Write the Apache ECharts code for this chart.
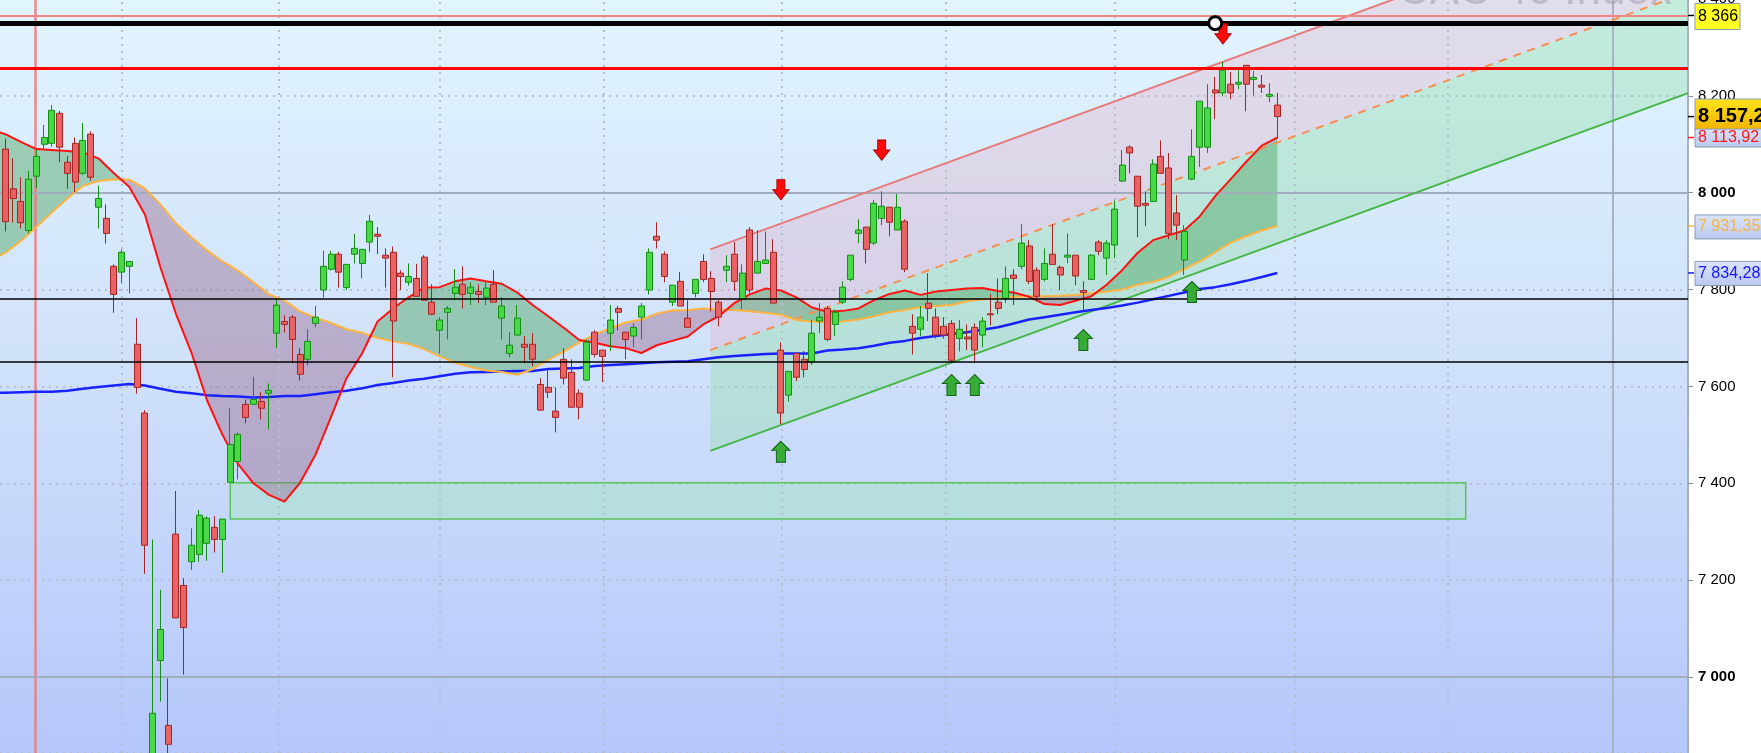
<!DOCTYPE html>
<html>
<head>
<meta charset="utf-8">
<title>CAC 40 Index</title>
<script src="https://cdn.jsdelivr.net/npm/echarts@6/dist/echarts.min.js"></script>
<style>
  html, body { margin: 0; padding: 0; background: #ffffff; }
  #chart { width: 1761px; height: 753px; }
</style>
</head>
<body>
<div id="chart"></div>
<script>
// ---- daily bars (bar index 0 = first bar on screen) ----
const opens = [
  8090, 8008, 7982, 7922, 8034, 8100, 8102, 8164, 8063, 8102,
  8040, 8121, 7970, 7947, 7848, 7836, 7848, 7687, 7545, 6820,
  7034, 6900, 7295, 7189, 7238, 7253, 7276, 7309, 7284, 7402,
  7445, 7563, 7563, 7569, 7586, 7710, 7734, 7743, 7666, 7656,
  7730, 7799, 7842, 7873, 7804, 7873, 7854, 7898, 7914, 7871,
  7877, 7834, 7815, 7823, 7867, 7774, 7716, 7753, 7792, 7811,
  7792, 7796, 7784, 7811, 7741, 7668, 7706, 7687, 7687, 7604,
  7598, 7549, 7656, 7629, 7586, 7613, 7712, 7675, 7710, 7761,
  7712, 7704, 7743, 7799, 7910, 7873, 7774, 7817, 7741, 7792,
  7858, 7823, 7774, 7840, 7873, 7780, 7923, 7834, 7854, 7877,
  7675, 7582, 7668, 7656, 7650, 7735, 7761, 7728, 7774, 7821,
  7916, 7929, 7896, 7947, 7970, 7923, 7941, 7724, 7718, 7772,
  7743, 7724, 7730, 7699, 7702, 7722, 7706, 7750, 7774, 7782,
  7830, 7848, 7890, 7840, 7821, 7873, 7846, 7867, 7871, 7798,
  7821, 7898, 7865, 7892, 8024, 8094, 8034, 7978, 7982, 8075,
  8051, 7958, 7861, 8028, 8094, 8094, 8212, 8206, 8224, 8224,
  8263, 8234, 8222, 8199, 8181
];
const closes = [
  7940, 7988, 7938, 8028, 8075, 8114, 8170, 8094, 8040, 8022,
  8108, 8032, 7988, 7916, 7790, 7877, 7858, 7598, 7272, 6925,
  7098, 6861, 7122, 7102, 7272, 7334, 7328, 7284, 7326, 7480,
  7501, 7536, 7573, 7555, 7592, 7768, 7728, 7697, 7625, 7693,
  7743, 7848, 7873, 7836, 7852, 7885, 7883, 7941, 7910, 7865,
  7735, 7827, 7827, 7786, 7778, 7749, 7737, 7761, 7805, 7790,
  7805, 7790, 7803, 7774, 7766, 7685, 7741, 7681, 7656, 7551,
  7588, 7536, 7617, 7557, 7557, 7691, 7666, 7662, 7737, 7753,
  7697, 7722, 7766, 7877, 7902, 7827, 7809, 7766, 7722, 7821,
  7821, 7796, 7743, 7848, 7817, 7834, 7799, 7858, 7861, 7772,
  7545, 7631, 7619, 7635, 7710, 7743, 7697, 7753, 7805, 7871,
  7923, 7883, 7978, 7972, 7939, 7970, 7842, 7710, 7743, 7761,
  7706, 7706, 7654, 7718, 7698, 7675, 7735, 7748, 7761, 7823,
  7823, 7896, 7817, 7786, 7854, 7852, 7830, 7871, 7828, 7794,
  7871, 7879, 7896, 7966, 8057, 8082, 7972, 7974, 8059, 8040,
  7916, 7933, 7920, 8075, 8189, 8175, 8206, 8253, 8206, 8228,
  8224, 8238, 8218, 8203, 8157.2
];
const lows = [
  7920, 7938, 7926, 7916, 8009, 8088, 8095, 8063, 8008, 8001,
  8037, 8025, 7926, 7895, 7752, 7814, 7792, 7585, 7213, 6780,
  6949, 6830, 7122, 7005, 7221, 7238, 7240, 7257, 7215, 7402,
  7408, 7524, 7563, 7532, 7511, 7679, 7711, 7648, 7612, 7643,
  7722, 7784, 7839, 7804, 7799, 7854, 7823, 7877, 7873, 7804,
  7619, 7799, 7808, 7786, 7778, 7747, 7668, 7697, 7778, 7761,
  7768, 7772, 7768, 7774, 7697, 7660, 7706, 7648, 7642, 7551,
  7576, 7505, 7604, 7557, 7532, 7611, 7660, 7609, 7673, 7716,
  7656, 7681, 7697, 7790, 7885, 7815, 7766, 7766, 7722, 7784,
  7815, 7755, 7724, 7815, 7797, 7759, 7792, 7834, 7854, 7772,
  7522, 7569, 7611, 7619, 7644, 7710, 7693, 7704, 7770, 7817,
  7896, 7854, 7892, 7933, 7910, 7923, 7836, 7666, 7704, 7735,
  7699, 7699, 7648, 7672, 7675, 7648, 7681, 7726, 7749, 7772,
  7768, 7842, 7811, 7776, 7817, 7852, 7799, 7854, 7809, 7757,
  7821, 7871, 7830, 7865, 8022, 8040, 7908, 7931, 7982, 8040,
  7904, 7902, 7830, 8026, 8053, 8082, 8152, 8199, 8193, 8214,
  8168, 8201, 8206, 8187, 8113
];
const highs = [
  8112, 8071, 8032, 8045, 8088, 8140, 8181, 8169, 8076, 8114,
  8144, 8127, 8015, 7976, 7852, 7883, 7858, 7741, 7551, 7284,
  7180, 6997, 7384, 7204, 7307, 7345, 7332, 7332, 7326, 7555,
  7505, 7573, 7620, 7588, 7606, 7782, 7747, 7747, 7679, 7718,
  7766, 7880, 7880, 7878, 7852, 7915, 7883, 7954, 7929, 7885,
  7889, 7840, 7854, 7853, 7871, 7811, 7743, 7766, 7842, 7848,
  7815, 7811, 7815, 7840, 7784, 7712, 7768, 7704, 7710, 7617,
  7633, 7598, 7679, 7656, 7594, 7697, 7716, 7675, 7768, 7766,
  7712, 7730, 7772, 7885, 7939, 7879, 7809, 7836, 7778, 7821,
  7873, 7838, 7778, 7871, 7898, 7852, 7929, 7923, 7920, 7904,
  7691, 7631, 7668, 7673, 7737, 7772, 7766, 7759, 7817, 7871,
  7945, 7929, 7985, 8003, 7970, 7997, 7945, 7749, 7766, 7834,
  7761, 7743, 7737, 7737, 7728, 7730, 7743, 7790, 7823, 7848,
  7842, 7935, 7902, 7846, 7885, 7935, 7850, 7916, 7871, 7817,
  7873, 7902, 7902, 7984, 8088, 8098, 8034, 8003, 8069, 8108,
  8082, 7995, 7933, 8131, 8189, 8224, 8239, 8270, 8249, 8253,
  8263, 8251, 8243, 8226, 8206
];

// ---- moving averages, sampled at bar -1, 0, 2, 4 ... 164 ----
const maIdx = [-1].concat(Array.from({ length: 83 }, (_, k) => 2 * k));
const maFast = [
  8126, 8121, 8105, 8090, 8088, 8086, 8083, 8071, 8040, 8012,
  7955, 7846, 7750, 7670, 7572, 7500, 7440, 7400, 7376, 7362,
  7401, 7459, 7537, 7617, 7668, 7734, 7761, 7784, 7804, 7805,
  7817, 7823, 7817, 7812, 7794, 7768, 7745, 7721, 7696, 7690,
  7683, 7679, 7669, 7685, 7694, 7703, 7728, 7745, 7772, 7790,
  7802, 7798, 7784, 7763, 7754, 7756, 7761, 7778, 7791, 7798,
  7789, 7796, 7799, 7802, 7803, 7797, 7794, 7785, 7770, 7768,
  7777, 7786, 7810, 7840, 7876, 7902, 7912, 7922, 7951, 7993,
  8028, 8064, 8097, 8113.92
];
const maMid = [
  7868, 7876, 7900, 7929, 7959, 7988, 8014, 8024, 8028, 8027,
  8009, 7976, 7937, 7908, 7881, 7858, 7839, 7815, 7790, 7777,
  7755, 7742, 7731, 7718, 7711, 7700, 7693, 7688, 7677, 7662,
  7649, 7640, 7633, 7630, 7624, 7636, 7655, 7672, 7691, 7707,
  7720, 7732, 7738, 7750, 7757, 7758, 7761, 7759, 7758, 7755,
  7752, 7748, 7737, 7734, 7732, 7734, 7738, 7745, 7753, 7758,
  7764, 7766, 7768, 7776, 7780, 7782, 7785, 7786, 7786, 7787,
  7789, 7792, 7796, 7800, 7810, 7816, 7826, 7842, 7858, 7877,
  7897, 7910, 7922, 7931.35
];
const maSlow = [
  7587, 7587, 7588, 7589, 7589, 7591, 7595, 7599, 7602, 7605,
  7602, 7595, 7589, 7586, 7582, 7580, 7579, 7577, 7578, 7580,
  7580, 7584, 7588, 7591, 7596, 7603, 7607, 7612, 7616, 7621,
  7626, 7629, 7630, 7631, 7632, 7632, 7636, 7637, 7638, 7642,
  7644, 7646, 7648, 7650, 7651, 7652, 7656, 7660, 7663, 7665,
  7667, 7668, 7668, 7668, 7674, 7676, 7679, 7684, 7690, 7694,
  7700, 7704, 7708, 7712, 7717, 7722, 7730, 7738, 7743, 7748,
  7753, 7758, 7762, 7767, 7773, 7780, 7787, 7794, 7801, 7805,
  7811, 7818, 7826, 7834.28
];

// ---- horizontal levels ----
const levelAlert = 8366;
const levelBlack = 8350;
const levelRed = 8257;
const levelSupports = [7780, 7650];
const majorGrid = [8000, 7000];

// ---- rising channel: anchor bar, three anchor prices, slope per bar ----
const channelStart = 90.9;
const channelUpper = 7883;
const channelMid = 7675;
const channelLower = 7467;
const channelSlope = 5.86;

// ---- support zone ----
const zoneFrom = 29.0, zoneTo = 188.3;
const zoneTop = 7401, zoneBottom = 7326;

// ---- vertical separators ----
const monthMarks = [15.0, 35.2, 56.0, 77.1, 100.1, 121.2, 143.1, 166.3, 186.0];
const cursorMark = 207.3;
const redMark = 3.8;

// ---- signals ----
const upArrows = [[100, 7465], [122, 7603], [125, 7603], [139, 7696], [153, 7795]];
const downArrows = [[100, 8006], [113, 8088], [157, 8328]];
const alertPoint = [156, 8350];

const lastClose = closes[closes.length - 1];
const lastFast = maFast[maFast.length - 1];
const lastMid = maMid[maMid.length - 1];
const lastSlow = maSlow[maSlow.length - 1];

// ---- axes ----
const xMin = -0.683, xMax = 216.96;
const yMin = 6843, yMax = 8400;

const FONT = '"Liberation Sans", Arial, sans-serif';

function fmt(v, dec) {
  const s = Number(v).toFixed(dec || 0);
  const parts = s.split('.');
  const intPart = parts[0].replace(/\B(?=(\d{3})+(?!\d))/g, ' ');
  return parts[1] ? intPart + ',' + parts[1] : intPart;
}

const candles = opens.map((o, i) => [i, o, closes[i], lows[i], highs[i]]);
const toLine = (vals) => maIdx.map((x, i) => [x, vals[i]]);

const chart = echarts.init(document.getElementById('chart'), null, { renderer: 'canvas', width: 1761, height: 753 });

const bullFill = 'rgba(78,163,96,0.45)';
const bearFill = 'rgba(150,100,135,0.42)';

function cloudShapes(api) {
  const kids = [];
  let upper = [], lower = [], sign = null;
  const flush = () => {
    if (upper.length > 1) {
      kids.push({
        type: 'polygon',
        shape: { points: upper.concat(lower.slice().reverse()) },
        style: { fill: sign > 0 ? bullFill : bearFill }
      });
    }
  };
  for (let i = 0; i < maIdx.length; i++) {
    const d = maFast[i] - maMid[i];
    const s = d >= 0 ? 1 : -1;
    if (sign !== null && s !== sign) {
      const dPrev = maFast[i - 1] - maMid[i - 1];
      const t = dPrev / (dPrev - d);
      const xc = maIdx[i - 1] + t * (maIdx[i] - maIdx[i - 1]);
      const yc = maFast[i - 1] + t * (maFast[i] - maFast[i - 1]);
      const pc = api.coord([xc, yc]);
      upper.push(pc); lower.push(pc);
      flush();
      upper = [pc]; lower = [pc];
    }
    sign = s;
    upper.push(api.coord([maIdx[i], maFast[i]]));
    lower.push(api.coord([maIdx[i], maMid[i]]));
  }
  flush();
  return kids;
}

function channelAt(base, x) { return base + channelSlope * (x - channelStart); }

const bgGradient = new echarts.graphic.LinearGradient(0, 0, 0, 1, [
  { offset: 0, color: '#e1f5fe' },
  { offset: 0.5, color: '#cfe0fa' },
  { offset: 1, color: '#b5c7fb' }
]);

const option = {
  animation: false,
  backgroundColor: '#ffffff',
  grid: {
    left: 0, right: 73, top: -1, bottom: 0,
    show: true, borderWidth: 0, backgroundColor: bgGradient,
    containLabel: false, outerBoundsMode: 'none'
  },
  xAxis: {
    type: 'value', min: xMin, max: xMax, show: false,
    splitLine: { show: false }
  },
  yAxis: {
    type: 'value', position: 'right', min: yMin, max: yMax, splitNumber: 7,
    axisLine: { show: true, onZero: false, lineStyle: { color: '#a6b0c0', width: 2 } },
    axisTick: { show: true, length: 5, lineStyle: { color: '#8a94a4', width: 1 } },
    axisLabel: {
      margin: 10, color: '#000', fontSize: 15, fontFamily: FONT,
      formatter: (v) => {
        if (Math.round(v) % 200 !== 0) return '';
        return Math.round(v) % 1000 === 0 ? '{b|' + fmt(v) + '}' : fmt(v);
      },
      rich: { b: { fontWeight: 'bold', fontSize: 15, fontFamily: FONT, color: '#000' } }
    },
    splitLine: { show: true, lineStyle: { color: '#b6c0d2', width: 2, type: [2, 5] } }
  },
  series: [
    // channel bands
    {
      type: 'custom', z: 1, silent: true,
      data: [[channelStart, channelMid]],
      renderItem: (params, api) => {
        const up0 = api.coord([channelStart, channelUpper]);
        const up1 = api.coord([xMax, channelAt(channelUpper, xMax)]);
        const md0 = api.coord([channelStart, channelMid]);
        const md1 = api.coord([xMax, channelAt(channelMid, xMax)]);
        const lo0 = api.coord([channelStart, channelLower]);
        const lo1 = api.coord([xMax, channelAt(channelLower, xMax)]);
        return {
          type: 'group',
          children: [
            { type: 'polygon', shape: { points: [up0, up1, md1, md0] }, style: { fill: 'rgba(228,165,188,0.30)' } },
            { type: 'polygon', shape: { points: [md0, md1, lo1, lo0] }, style: { fill: 'rgba(140,222,162,0.36)' } }
          ]
        };
      }
    },
    // moving-average cloud
    {
      type: 'custom', z: 2, silent: true,
      data: [[0, maFast[0]]],
      renderItem: (params, api) => ({ type: 'group', children: cloudShapes(api) })
    },
    // grid-like separators and support zone
    {
      type: 'line', z: 2, silent: true, showSymbol: false,
      data: [[channelStart, channelMid]],
      lineStyle: { width: 0, opacity: 0 },
      markArea: {
        silent: true, z: 2,
        itemStyle: { color: 'rgba(160,232,190,0.42)', borderColor: '#5ac65a', borderWidth: 1.5 },
        data: [[{ coord: [zoneFrom, zoneTop] }, { coord: [zoneTo, zoneBottom] }]]
      },
      markLine: {
        silent: true, z: 3, symbol: ['none', 'none'], label: { show: false },
        data: monthMarks.map(x => ({ xAxis: x, lineStyle: { color: '#b4c0d2', width: 2, type: [2, 5] } }))
          .concat([
            { xAxis: cursorMark, lineStyle: { color: '#a8b3c6', width: 2, type: 'solid' } },
            { xAxis: redMark, lineStyle: { color: 'rgba(238,118,118,0.85)', width: 2.5, type: 'solid' } }
          ])
          .concat(majorGrid.map(v => ({ yAxis: v, lineStyle: { color: '#a2acbd', width: 2, type: 'solid' } })))
      }
    },
    // channel lines
    {
      type: 'line', z: 3, silent: true, showSymbol: false,
      data: [[channelStart, channelUpper], [xMax, channelAt(channelUpper, xMax)]],
      lineStyle: { color: '#e77a7a', width: 2 }
    },
    {
      type: 'line', z: 3, silent: true, showSymbol: false,
      data: [[channelStart, channelMid], [xMax, channelAt(channelMid, xMax)]],
      lineStyle: { color: '#f59052', width: 2, type: [8, 7] }
    },
    {
      type: 'line', z: 3, silent: true, showSymbol: false,
      data: [[channelStart, channelLower], [xMax, channelAt(channelLower, xMax)]],
      lineStyle: { color: '#45b545', width: 2 }
    },
    // moving averages
    {
      type: 'line', z: 4, silent: true, showSymbol: false,
      data: toLine(maSlow), lineStyle: { color: '#1822ff', width: 2.5 }
    },
    {
      type: 'line', z: 4, silent: true, showSymbol: false,
      data: toLine(maMid), lineStyle: { color: '#ffb440', width: 2 }
    },
    {
      type: 'line', z: 4, silent: true, showSymbol: false,
      data: toLine(maFast), lineStyle: { color: '#ff1212', width: 2 }
    },
    // bars
    {
      type: 'candlestick', z: 5,
      data: candles,
      barWidth: 6.5, barMinWidth: 6.5, barMaxWidth: 6.5,
      itemStyle: {
        color: '#48d848', color0: '#e86464',
        borderColor: '#148f14', borderColor0: '#a82424', borderWidth: 1
      }
    },
    // price levels drawn over the bars
    {
      type: 'line', z: 6, silent: true, showSymbol: false,
      data: [[channelStart, channelMid]],
      lineStyle: { width: 0, opacity: 0 },
      markLine: {
        silent: true, z: 6, symbol: ['none', 'none'], label: { show: false },
        data: [
          { yAxis: levelAlert, lineStyle: { color: '#f08585', width: 2, type: 'solid' } },
          { yAxis: levelBlack, lineStyle: { color: '#000000', width: 5, type: 'solid' } },
          { yAxis: levelRed, lineStyle: { color: '#ff0000', width: 3, type: 'solid' } }
        ].concat(levelSupports.map(v => ({ yAxis: v, lineStyle: { color: '#000000', width: 1.5, type: 'solid' } })))
      }
    },
    // signals
    {
      type: 'scatter', z: 7, silent: true,
      data: upArrows,
      symbol: 'path://M9,0 L18,9 L13.5,9 L13.5,21 L4.5,21 L4.5,9 L0,9 Z',
      symbolSize: [18, 21],
      itemStyle: { color: '#36ac36', borderColor: '#135f13', borderWidth: 1, opacity: 1 }
    },
    {
      type: 'scatter', z: 7, silent: true,
      data: downArrows,
      symbol: 'path://M4,0 L12,0 L12,10 L16,10 L8,20 L0,10 L4,10 Z',
      symbolSize: [16, 20],
      itemStyle: { color: '#ff0a0a', borderColor: '#b00000', borderWidth: 1, opacity: 1 }
    },
    {
      type: 'scatter', z: 8, silent: true,
      data: [alertPoint],
      symbol: 'circle', symbolSize: 13,
      itemStyle: { color: '#ffffff', borderColor: '#000000', borderWidth: 3, opacity: 1 }
    }
  ]
};

chart.setOption(option);

// ---- right-hand value tags, placed through the axis scale ----
const plotRight = chart.convertToPixel({ xAxisIndex: 0 }, xMax);
const yPix = (v) => chart.convertToPixel({ yAxisIndex: 0 }, v);
const maTagFill = new echarts.graphic.LinearGradient(0, 0, 0, 1, [
  { offset: 0, color: '#dbe5fb' }, { offset: 1, color: '#b9c8ef' }
]);
const closeTagFill = new echarts.graphic.LinearGradient(0, 0, 0, 1, [
  { offset: 0, color: '#ffe41c' }, { offset: 1, color: '#f1b400' }
]);
const tags = [
  { v: levelAlert, text: fmt(levelAlert), color: '#000', tick: '#000', fill: '#ffff22', h: 26, w: 45, dy: 1, font: '16px ' + FONT },
  { v: lastFast, text: fmt(lastFast, 2), color: '#ff1a1a', tick: '#ff1a1a', fill: maTagFill, h: 19, w: 80, dy: 0, font: '16px ' + FONT },
  { v: lastClose, text: fmt(lastClose, 1), color: '#000', tick: '#000', fill: closeTagFill, h: 30, w: 80, dy: -2.5, font: 'bold 20px ' + FONT },
  { v: lastMid, text: fmt(lastMid, 2), color: '#f7b443', tick: '#f7b443', fill: maTagFill, h: 24, w: 80, dy: 1, font: '16px ' + FONT },
  { v: lastSlow, text: fmt(lastSlow, 2), color: '#1616ff', tick: '#1616ff', fill: maTagFill, h: 24, w: 80, dy: 0.5, font: '16px ' + FONT }
];
const graphics = [];
tags.forEach((t, k) => {
  const y = yPix(t.v);
  const cy = y + t.dy;
  graphics.push({
    type: 'line', z: 100 + k * 3,
    shape: { x1: plotRight, y1: y, x2: plotRight + 6, y2: y },
    style: { stroke: t.tick, lineWidth: 1.5 }
  });
  graphics.push({
    type: 'rect', z: 101 + k * 3,
    shape: { x: plotRight + 7, y: cy - t.h / 2, width: t.w, height: t.h },
    style: { fill: t.fill, stroke: '#8c9bb2', lineWidth: 1 }
  });
  graphics.push({
    type: 'text', z: 102 + k * 3,
    x: plotRight + 10, y: y + (t.dy > 0 ? 1 : 0),
    style: { text: t.text, fill: t.color, font: t.font, verticalAlign: 'middle', align: 'left' }
  });
});
graphics.push({
  type: 'text', z: 90,
  x: 1398, y: -8,
  style: { text: 'CAC 40 Index', fill: 'rgba(145,145,158,0.45)', font: '44px ' + FONT, verticalAlign: 'middle', align: 'left' }
});
chart.setOption({ graphic: graphics });
</script>
</body>
</html>
